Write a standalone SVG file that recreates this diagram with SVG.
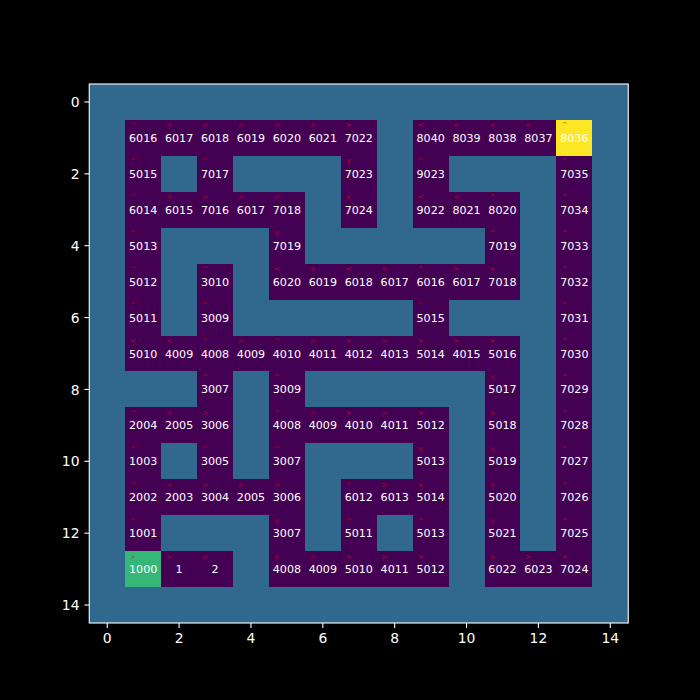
<svg xmlns="http://www.w3.org/2000/svg" width="700" height="700" viewBox="0 0 700 700">
<style>
.o{fill:#440154;shape-rendering:crispEdges}
.g{fill:#35b779;shape-rendering:crispEdges}
.y{fill:#fde725;shape-rendering:crispEdges}
.n{font-family:'DejaVu Sans',sans-serif;font-size:11.1px;fill:#fff;text-anchor:middle}
.a{font-family:'DejaVu Sans',sans-serif;font-size:7px;fill:red;fill-opacity:.7;text-anchor:middle}
.t{font-family:'DejaVu Sans',sans-serif;font-size:13.9px;fill:#fff}
.tk{stroke:#fff;stroke-width:1.1}
</style>
<rect width="700" height="700" fill="#000"/>
<rect x="89.25" y="84" width="539" height="539" fill="#31688e"/>
<defs>
<rect id="cell" x="-17.97" y="-17.97" width="35.94" height="35.94"/>
</defs>
<g id="cells">
<!-- row 1 -->
<g id="r1c1" transform="translate(143.15 137.9)"><use href="#cell" class="o"/><text class="a" x="-10" y="-10.5">^</text><text class="n" y="4">6016</text></g>
<g id="r1c2" transform="translate(179.08 137.9)"><use href="#cell" class="o"/><text class="a" x="-10" y="-10.5">&gt;</text><text class="n" y="4">6017</text></g>
<g id="r1c3" transform="translate(215.02 137.9)"><use href="#cell" class="o"/><text class="a" x="-10" y="-10.5">&gt;</text><text class="n" y="4">6018</text></g>
<g id="r1c4" transform="translate(250.95 137.9)"><use href="#cell" class="o"/><text class="a" x="-10" y="-10.5">&gt;</text><text class="n" y="4">6019</text></g>
<g id="r1c5" transform="translate(286.88 137.9)"><use href="#cell" class="o"/><text class="a" x="-10" y="-10.5">&gt;</text><text class="n" y="4">6020</text></g>
<g id="r1c6" transform="translate(322.82 137.9)"><use href="#cell" class="o"/><text class="a" x="-10" y="-10.5">&gt;</text><text class="n" y="4">6021</text></g>
<g id="r1c7" transform="translate(358.75 137.9)"><use href="#cell" class="o"/><text class="a" x="-10" y="-10.5">&gt;</text><text class="n" y="4">7022</text></g>
<g id="r1c9" transform="translate(430.62 137.9)"><use href="#cell" class="o"/><text class="a" x="-10" y="-10.5">&lt;</text><text class="n" y="4">8040</text></g>
<g id="r1c10" transform="translate(466.55 137.9)"><use href="#cell" class="o"/><text class="a" x="-10" y="-10.5">&lt;</text><text class="n" y="4">8039</text></g>
<g id="r1c11" transform="translate(502.48 137.9)"><use href="#cell" class="o"/><text class="a" x="-10" y="-10.5">&lt;</text><text class="n" y="4">8038</text></g>
<g id="r1c12" transform="translate(538.42 137.9)"><use href="#cell" class="o"/><text class="a" x="-10" y="-10.5">&lt;</text><text class="n" y="4">8037</text></g>
<g id="r1c13" transform="translate(574.35 137.9)"><use href="#cell" class="y"/><text class="a" x="-10" y="-10.5">^</text><text class="n" y="4">8036</text></g>
<!-- row 2 -->
<g id="r2c1" transform="translate(143.15 173.83)"><use href="#cell" class="o"/><text class="a" x="-10" y="-10.5">^</text><text class="n" y="4">5015</text></g>
<g id="r2c3" transform="translate(215.02 173.83)"><use href="#cell" class="o"/><text class="a" x="-10" y="-10.5">^</text><text class="n" y="4">7017</text></g>
<g id="r2c7" transform="translate(358.75 173.83)"><use href="#cell" class="o"/><text class="a" x="-10" y="-10.5">v</text><text class="n" y="4">7023</text></g>
<g id="r2c9" transform="translate(430.62 173.83)"><use href="#cell" class="o"/><text class="a" x="-10" y="-10.5">^</text><text class="n" y="4">9023</text></g>
<g id="r2c13" transform="translate(574.35 173.83)"><use href="#cell" class="o"/><text class="a" x="-10" y="-10.5">^</text><text class="n" y="4">7035</text></g>
<!-- row 3 -->
<g id="r3c1" transform="translate(143.15 209.77)"><use href="#cell" class="o"/><text class="a" x="-10" y="-10.5">^</text><text class="n" y="4">6014</text></g>
<g id="r3c2" transform="translate(179.08 209.77)"><use href="#cell" class="o"/><text class="a" x="-10" y="-10.5">&gt;</text><text class="n" y="4">6015</text></g>
<g id="r3c3" transform="translate(215.02 209.77)"><use href="#cell" class="o"/><text class="a" x="-10" y="-10.5">&gt;</text><text class="n" y="4">7016</text></g>
<g id="r3c4" transform="translate(250.95 209.77)"><use href="#cell" class="o"/><text class="a" x="-10" y="-10.5">&gt;</text><text class="n" y="4">6017</text></g>
<g id="r3c5" transform="translate(286.88 209.77)"><use href="#cell" class="o"/><text class="a" x="-10" y="-10.5">&gt;</text><text class="n" y="4">7018</text></g>
<g id="r3c7" transform="translate(358.75 209.77)"><use href="#cell" class="o"/><text class="a" x="-10" y="-10.5">v</text><text class="n" y="4">7024</text></g>
<g id="r3c9" transform="translate(430.62 209.77)"><use href="#cell" class="o"/><text class="a" x="-10" y="-10.5">&lt;</text><text class="n" y="4">9022</text></g>
<g id="r3c10" transform="translate(466.55 209.77)"><use href="#cell" class="o"/><text class="a" x="-10" y="-10.5">&lt;</text><text class="n" y="4">8021</text></g>
<g id="r3c11" transform="translate(502.48 209.77)"><use href="#cell" class="o"/><text class="a" x="-10" y="-10.5">^</text><text class="n" y="4">8020</text></g>
<g id="r3c13" transform="translate(574.35 209.77)"><use href="#cell" class="o"/><text class="a" x="-10" y="-10.5">^</text><text class="n" y="4">7034</text></g>
<!-- row 4 -->
<g id="r4c1" transform="translate(143.15 245.7)"><use href="#cell" class="o"/><text class="a" x="-10" y="-10.5">^</text><text class="n" y="4">5013</text></g>
<g id="r4c5" transform="translate(286.88 245.7)"><use href="#cell" class="o"/><text class="a" x="-10" y="-10.5">v</text><text class="n" y="4">7019</text></g>
<g id="r4c11" transform="translate(502.48 245.7)"><use href="#cell" class="o"/><text class="a" x="-10" y="-10.5">^</text><text class="n" y="4">7019</text></g>
<g id="r4c13" transform="translate(574.35 245.7)"><use href="#cell" class="o"/><text class="a" x="-10" y="-10.5">^</text><text class="n" y="4">7033</text></g>
<!-- row 5 -->
<g id="r5c1" transform="translate(143.15 281.63)"><use href="#cell" class="o"/><text class="a" x="-10" y="-10.5">^</text><text class="n" y="4">5012</text></g>
<g id="r5c3" transform="translate(215.02 281.63)"><use href="#cell" class="o"/><text class="a" x="-10" y="-10.5">^</text><text class="n" y="4">3010</text></g>
<g id="r5c5" transform="translate(286.88 281.63)"><use href="#cell" class="o"/><text class="a" x="-10" y="-10.5">&lt;</text><text class="n" y="4">6020</text></g>
<g id="r5c6" transform="translate(322.82 281.63)"><use href="#cell" class="o"/><text class="a" x="-10" y="-10.5">&lt;</text><text class="n" y="4">6019</text></g>
<g id="r5c7" transform="translate(358.75 281.63)"><use href="#cell" class="o"/><text class="a" x="-10" y="-10.5">&lt;</text><text class="n" y="4">6018</text></g>
<g id="r5c8" transform="translate(394.68 281.63)"><use href="#cell" class="o"/><text class="a" x="-10" y="-10.5">&lt;</text><text class="n" y="4">6017</text></g>
<g id="r5c9" transform="translate(430.62 281.63)"><use href="#cell" class="o"/><text class="a" x="-10" y="-10.5">^</text><text class="n" y="4">6016</text></g>
<g id="r5c10" transform="translate(466.55 281.63)"><use href="#cell" class="o"/><text class="a" x="-10" y="-10.5">&gt;</text><text class="n" y="4">6017</text></g>
<g id="r5c11" transform="translate(502.48 281.63)"><use href="#cell" class="o"/><text class="a" x="-10" y="-10.5">&gt;</text><text class="n" y="4">7018</text></g>
<g id="r5c13" transform="translate(574.35 281.63)"><use href="#cell" class="o"/><text class="a" x="-10" y="-10.5">^</text><text class="n" y="4">7032</text></g>
<!-- row 6 -->
<g id="r6c1" transform="translate(143.15 317.57)"><use href="#cell" class="o"/><text class="a" x="-10" y="-10.5">^</text><text class="n" y="4">5011</text></g>
<g id="r6c3" transform="translate(215.02 317.57)"><use href="#cell" class="o"/><text class="a" x="-10" y="-10.5">^</text><text class="n" y="4">3009</text></g>
<g id="r6c9" transform="translate(430.62 317.57)"><use href="#cell" class="o"/><text class="a" x="-10" y="-10.5">^</text><text class="n" y="4">5015</text></g>
<g id="r6c13" transform="translate(574.35 317.57)"><use href="#cell" class="o"/><text class="a" x="-10" y="-10.5">^</text><text class="n" y="4">7031</text></g>
<!-- row 7 -->
<g id="r7c1" transform="translate(143.15 353.5)"><use href="#cell" class="o"/><text class="a" x="-10" y="-10.5">&lt;</text><text class="n" y="4">5010</text></g>
<g id="r7c2" transform="translate(179.08 353.5)"><use href="#cell" class="o"/><text class="a" x="-10" y="-10.5">&lt;</text><text class="n" y="4">4009</text></g>
<g id="r7c3" transform="translate(215.02 353.5)"><use href="#cell" class="o"/><text class="a" x="-10" y="-10.5">^</text><text class="n" y="4">4008</text></g>
<g id="r7c4" transform="translate(250.95 353.5)"><use href="#cell" class="o"/><text class="a" x="-10" y="-10.5">&gt;</text><text class="n" y="4">4009</text></g>
<g id="r7c5" transform="translate(286.88 353.5)"><use href="#cell" class="o"/><text class="a" x="-10" y="-10.5">^</text><text class="n" y="4">4010</text></g>
<g id="r7c6" transform="translate(322.82 353.5)"><use href="#cell" class="o"/><text class="a" x="-10" y="-10.5">&gt;</text><text class="n" y="4">4011</text></g>
<g id="r7c7" transform="translate(358.75 353.5)"><use href="#cell" class="o"/><text class="a" x="-10" y="-10.5">&gt;</text><text class="n" y="4">4012</text></g>
<g id="r7c8" transform="translate(394.68 353.5)"><use href="#cell" class="o"/><text class="a" x="-10" y="-10.5">&gt;</text><text class="n" y="4">4013</text></g>
<g id="r7c9" transform="translate(430.62 353.5)"><use href="#cell" class="o"/><text class="a" x="-10" y="-10.5">&gt;</text><text class="n" y="4">5014</text></g>
<g id="r7c10" transform="translate(466.55 353.5)"><use href="#cell" class="o"/><text class="a" x="-10" y="-10.5">&gt;</text><text class="n" y="4">4015</text></g>
<g id="r7c11" transform="translate(502.48 353.5)"><use href="#cell" class="o"/><text class="a" x="-10" y="-10.5">&gt;</text><text class="n" y="4">5016</text></g>
<g id="r7c13" transform="translate(574.35 353.5)"><use href="#cell" class="o"/><text class="a" x="-10" y="-10.5">^</text><text class="n" y="4">7030</text></g>
<!-- row 8 -->
<g id="r8c3" transform="translate(215.02 389.43)"><use href="#cell" class="o"/><text class="a" x="-10" y="-10.5">^</text><text class="n" y="4">3007</text></g>
<g id="r8c5" transform="translate(286.88 389.43)"><use href="#cell" class="o"/><text class="a" x="-10" y="-10.5">^</text><text class="n" y="4">3009</text></g>
<g id="r8c11" transform="translate(502.48 389.43)"><use href="#cell" class="o"/><text class="a" x="-10" y="-10.5">v</text><text class="n" y="4">5017</text></g>
<g id="r8c13" transform="translate(574.35 389.43)"><use href="#cell" class="o"/><text class="a" x="-10" y="-10.5">^</text><text class="n" y="4">7029</text></g>
<!-- row 9 -->
<g id="r9c1" transform="translate(143.15 425.37)"><use href="#cell" class="o"/><text class="a" x="-10" y="-10.5">^</text><text class="n" y="4">2004</text></g>
<g id="r9c2" transform="translate(179.08 425.37)"><use href="#cell" class="o"/><text class="a" x="-10" y="-10.5">&gt;</text><text class="n" y="4">2005</text></g>
<g id="r9c3" transform="translate(215.02 425.37)"><use href="#cell" class="o"/><text class="a" x="-10" y="-10.5">&gt;</text><text class="n" y="4">3006</text></g>
<g id="r9c5" transform="translate(286.88 425.37)"><use href="#cell" class="o"/><text class="a" x="-10" y="-10.5">^</text><text class="n" y="4">4008</text></g>
<g id="r9c6" transform="translate(322.82 425.37)"><use href="#cell" class="o"/><text class="a" x="-10" y="-10.5">&gt;</text><text class="n" y="4">4009</text></g>
<g id="r9c7" transform="translate(358.75 425.37)"><use href="#cell" class="o"/><text class="a" x="-10" y="-10.5">&gt;</text><text class="n" y="4">4010</text></g>
<g id="r9c8" transform="translate(394.68 425.37)"><use href="#cell" class="o"/><text class="a" x="-10" y="-10.5">&gt;</text><text class="n" y="4">4011</text></g>
<g id="r9c9" transform="translate(430.62 425.37)"><use href="#cell" class="o"/><text class="a" x="-10" y="-10.5">&gt;</text><text class="n" y="4">5012</text></g>
<g id="r9c11" transform="translate(502.48 425.37)"><use href="#cell" class="o"/><text class="a" x="-10" y="-10.5">v</text><text class="n" y="4">5018</text></g>
<g id="r9c13" transform="translate(574.35 425.37)"><use href="#cell" class="o"/><text class="a" x="-10" y="-10.5">^</text><text class="n" y="4">7028</text></g>
<!-- row 10 -->
<g id="r10c1" transform="translate(143.15 461.3)"><use href="#cell" class="o"/><text class="a" x="-10" y="-10.5">^</text><text class="n" y="4">1003</text></g>
<g id="r10c3" transform="translate(215.02 461.3)"><use href="#cell" class="o"/><text class="a" x="-10" y="-10.5">^</text><text class="n" y="4">3005</text></g>
<g id="r10c5" transform="translate(286.88 461.3)"><use href="#cell" class="o"/><text class="a" x="-10" y="-10.5">^</text><text class="n" y="4">3007</text></g>
<g id="r10c9" transform="translate(430.62 461.3)"><use href="#cell" class="o"/><text class="a" x="-10" y="-10.5">v</text><text class="n" y="4">5013</text></g>
<g id="r10c11" transform="translate(502.48 461.3)"><use href="#cell" class="o"/><text class="a" x="-10" y="-10.5">v</text><text class="n" y="4">5019</text></g>
<g id="r10c13" transform="translate(574.35 461.3)"><use href="#cell" class="o"/><text class="a" x="-10" y="-10.5">^</text><text class="n" y="4">7027</text></g>
<!-- row 11 -->
<g id="r11c1" transform="translate(143.15 497.23)"><use href="#cell" class="o"/><text class="a" x="-10" y="-10.5">^</text><text class="n" y="4">2002</text></g>
<g id="r11c2" transform="translate(179.08 497.23)"><use href="#cell" class="o"/><text class="a" x="-10" y="-10.5">&gt;</text><text class="n" y="4">2003</text></g>
<g id="r11c3" transform="translate(215.02 497.23)"><use href="#cell" class="o"/><text class="a" x="-10" y="-10.5">&gt;</text><text class="n" y="4">3004</text></g>
<g id="r11c4" transform="translate(250.95 497.23)"><use href="#cell" class="o"/><text class="a" x="-10" y="-10.5">&gt;</text><text class="n" y="4">2005</text></g>
<g id="r11c5" transform="translate(286.88 497.23)"><use href="#cell" class="o"/><text class="a" x="-10" y="-10.5">&gt;</text><text class="n" y="4">3006</text></g>
<g id="r11c7" transform="translate(358.75 497.23)"><use href="#cell" class="o"/><text class="a" x="-10" y="-10.5">^</text><text class="n" y="4">6012</text></g>
<g id="r11c8" transform="translate(394.68 497.23)"><use href="#cell" class="o"/><text class="a" x="-10" y="-10.5">&gt;</text><text class="n" y="4">6013</text></g>
<g id="r11c9" transform="translate(430.62 497.23)"><use href="#cell" class="o"/><text class="a" x="-10" y="-10.5">v</text><text class="n" y="4">5014</text></g>
<g id="r11c11" transform="translate(502.48 497.23)"><use href="#cell" class="o"/><text class="a" x="-10" y="-10.5">v</text><text class="n" y="4">5020</text></g>
<g id="r11c13" transform="translate(574.35 497.23)"><use href="#cell" class="o"/><text class="a" x="-10" y="-10.5">^</text><text class="n" y="4">7026</text></g>
<!-- row 12 -->
<g id="r12c1" transform="translate(143.15 533.17)"><use href="#cell" class="o"/><text class="a" x="-10" y="-10.5">^</text><text class="n" y="4">1001</text></g>
<g id="r12c5" transform="translate(286.88 533.17)"><use href="#cell" class="o"/><text class="a" x="-10" y="-10.5">v</text><text class="n" y="4">3007</text></g>
<g id="r12c7" transform="translate(358.75 533.17)"><use href="#cell" class="o"/><text class="a" x="-10" y="-10.5">^</text><text class="n" y="4">5011</text></g>
<g id="r12c9" transform="translate(430.62 533.17)"><use href="#cell" class="o"/><text class="a" x="-10" y="-10.5">^</text><text class="n" y="4">5013</text></g>
<g id="r12c11" transform="translate(502.48 533.17)"><use href="#cell" class="o"/><text class="a" x="-10" y="-10.5">v</text><text class="n" y="4">5021</text></g>
<g id="r12c13" transform="translate(574.35 533.17)"><use href="#cell" class="o"/><text class="a" x="-10" y="-10.5">^</text><text class="n" y="4">7025</text></g>
<!-- row 13 -->
<g id="r13c1" transform="translate(143.15 569.1)"><use href="#cell" class="g"/><text class="a" x="-10" y="-10.5">&gt;</text><text class="n" y="4">1000</text></g>
<g id="r13c2" transform="translate(179.08 569.1)"><use href="#cell" class="o"/><text class="a" x="-10" y="-10.5">&gt;</text><text class="n" y="4">1</text></g>
<g id="r13c3" transform="translate(215.02 569.1)"><use href="#cell" class="o"/><text class="a" x="-10" y="-10.5">&gt;</text><text class="n" y="4">2</text></g>
<g id="r13c5" transform="translate(286.88 569.1)"><use href="#cell" class="o"/><text class="a" x="-10" y="-10.5">v</text><text class="n" y="4">4008</text></g>
<g id="r13c6" transform="translate(322.82 569.1)"><use href="#cell" class="o"/><text class="a" x="-10" y="-10.5">&gt;</text><text class="n" y="4">4009</text></g>
<g id="r13c7" transform="translate(358.75 569.1)"><use href="#cell" class="o"/><text class="a" x="-10" y="-10.5">&gt;</text><text class="n" y="4">5010</text></g>
<g id="r13c8" transform="translate(394.68 569.1)"><use href="#cell" class="o"/><text class="a" x="-10" y="-10.5">&gt;</text><text class="n" y="4">4011</text></g>
<g id="r13c9" transform="translate(430.62 569.1)"><use href="#cell" class="o"/><text class="a" x="-10" y="-10.5">&gt;</text><text class="n" y="4">5012</text></g>
<g id="r13c11" transform="translate(502.48 569.1)"><use href="#cell" class="o"/><text class="a" x="-10" y="-10.5">v</text><text class="n" y="4">6022</text></g>
<g id="r13c12" transform="translate(538.42 569.1)"><use href="#cell" class="o"/><text class="a" x="-10" y="-10.5">&gt;</text><text class="n" y="4">6023</text></g>
<g id="r13c13" transform="translate(574.35 569.1)"><use href="#cell" class="o"/><text class="a" x="-10" y="-10.5">&gt;</text><text class="n" y="4">7024</text></g>
</g>
<rect x="89.25" y="84" width="539" height="539" fill="none" stroke="#fff" stroke-width="1.1"/>
<g id="axes">
<g class="tk">
<line x1="84.4" y1="101.97" x2="89.25" y2="101.97"/>
<line x1="84.4" y1="173.83" x2="89.25" y2="173.83"/>
<line x1="84.4" y1="245.7" x2="89.25" y2="245.7"/>
<line x1="84.4" y1="317.57" x2="89.25" y2="317.57"/>
<line x1="84.4" y1="389.43" x2="89.25" y2="389.43"/>
<line x1="84.4" y1="461.3" x2="89.25" y2="461.3"/>
<line x1="84.4" y1="533.17" x2="89.25" y2="533.17"/>
<line x1="84.4" y1="605.03" x2="89.25" y2="605.03"/>
<line x1="107.22" y1="623" x2="107.22" y2="627.9"/>
<line x1="179.08" y1="623" x2="179.08" y2="627.9"/>
<line x1="250.95" y1="623" x2="250.95" y2="627.9"/>
<line x1="322.82" y1="623" x2="322.82" y2="627.9"/>
<line x1="394.68" y1="623" x2="394.68" y2="627.9"/>
<line x1="466.55" y1="623" x2="466.55" y2="627.9"/>
<line x1="538.42" y1="623" x2="538.42" y2="627.9"/>
<line x1="610.28" y1="623" x2="610.28" y2="627.9"/>
</g>
<g class="t" text-anchor="end">
<text x="79.5" y="107">0</text>
<text x="79.5" y="178.9">2</text>
<text x="79.5" y="250.8">4</text>
<text x="79.5" y="322.6">6</text>
<text x="79.5" y="394.5">8</text>
<text x="79.5" y="466.4">10</text>
<text x="79.5" y="538.2">12</text>
<text x="79.5" y="610.1">14</text>
</g>
<g class="t" text-anchor="middle">
<text x="107.22" y="642.8">0</text>
<text x="179.08" y="642.8">2</text>
<text x="250.95" y="642.8">4</text>
<text x="322.82" y="642.8">6</text>
<text x="394.68" y="642.8">8</text>
<text x="466.55" y="642.8">10</text>
<text x="538.42" y="642.8">12</text>
<text x="610.28" y="642.8">14</text>
</g>
</g>
</svg>
